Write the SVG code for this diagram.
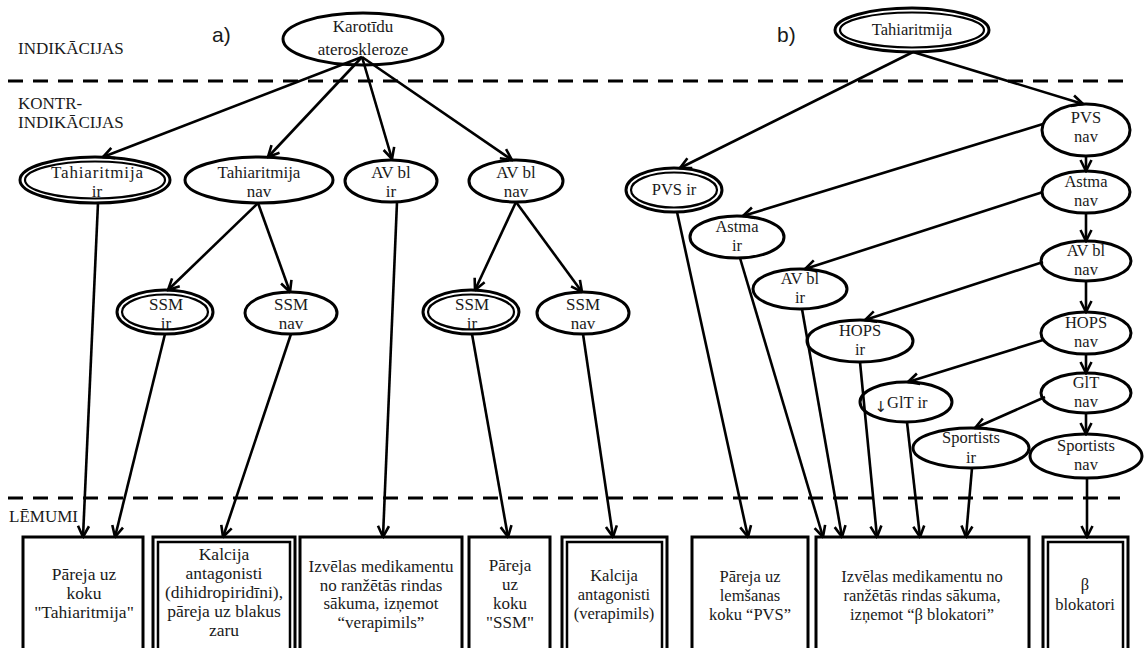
<svg xmlns="http://www.w3.org/2000/svg" width="1144" height="648" viewBox="0 0 1144 648">
<style>
.bg{fill:#fff}
.e{fill:#fff;stroke:#000;stroke-width:3}
.ei{fill:none;stroke:#000;stroke-width:2.2}
.r{fill:#fff;stroke:#000;stroke-width:3}
.ri{fill:none;stroke:#000;stroke-width:2.5}
.c{fill:none;stroke:#000;stroke-width:2.6;marker-end:url(#arr)}
.d{fill:none;stroke:#000;stroke-width:3;stroke-dasharray:15 10}
text{font-family:'Liberation Serif','DejaVu Serif',serif;font-size:16.5px;fill:#1a1a1a;text-anchor:middle}
.lab{text-anchor:start;font-size:17px}
.la{font-size:17px}
.lb{font-size:17.5px}
.ab{font-family:'Liberation Sans','DejaVu Sans',sans-serif;font-size:21px;text-anchor:start}
.dn{font-family:'DejaVu Sans',sans-serif;font-size:15px}
</style>
<defs>
<marker id="arr" viewBox="0 0 14 14" refX="12.5" refY="7" markerWidth="14" markerHeight="14" markerUnits="userSpaceOnUse" orient="auto">
<path d="M1.5,1.5 L12.5,7 L1.5,12.5" fill="none" stroke="#000" stroke-width="2.6"/>
</marker>
</defs>
<rect class="bg" x="0" y="0" width="1144" height="648"/>

<g id="sections">
<line class="d" x1="8" y1="81" x2="1132" y2="81"/>
<line class="d" x1="8" y1="498" x2="1120" y2="498"/>
<text class="lab" x="18" y="54">INDIKĀCIJAS</text>
<text class="lab" x="18" y="109">KONTR-</text>
<text class="lab" x="18" y="128">INDIKĀCIJAS</text>
<text class="lab" x="9" y="522">LĒMUMI</text>
<text class="ab" x="212" y="42">a)</text>
<text class="ab" x="777" y="42">b)</text>
</g>

<g id="a_karotidu"><ellipse class="e" cx="363" cy="39" rx="80" ry="26"/><text class="la" x="363" y="32">Karotīdu</text><text class="la" x="363" y="55">ateroskleroze</text></g>
<g id="a_tahi_ir"><ellipse class="e" cx="95" cy="180" rx="75" ry="23"/><ellipse class="ei" cx="95" cy="180" rx="70" ry="18.5"/><text class="la" x="97" y="178" textLength="92">Tahiaritmija</text><text class="la" x="97" y="197">ir</text></g>
<g id="a_tahi_nav"><ellipse class="e" cx="259" cy="180" rx="74" ry="23"/><text class="la" x="259" y="178">Tahiaritmija</text><text class="la" x="259" y="197">nav</text></g>
<g id="a_avbl_ir"><ellipse class="e" cx="391" cy="181" rx="46" ry="21"/><text class="la" x="391" y="178">AV bl</text><text class="la" x="391" y="197">ir</text></g>
<g id="a_avbl_nav"><ellipse class="e" cx="516" cy="181" rx="47" ry="21"/><text class="la" x="516" y="178">AV bl</text><text class="la" x="516" y="197">nav</text></g>
<g id="a_ssm_ir1"><ellipse class="e" cx="165" cy="312" rx="48" ry="22"/><ellipse class="ei" cx="165" cy="312" rx="43" ry="17.5"/><text class="la" x="166" y="310">SSM</text><text class="la" x="166" y="329">ir</text></g>
<g id="a_ssm_nav1"><ellipse class="e" cx="291" cy="313" rx="46" ry="21"/><text class="la" x="291" y="310">SSM</text><text class="la" x="291" y="329">nav</text></g>
<g id="a_ssm_ir2"><ellipse class="e" cx="471" cy="312" rx="48" ry="22"/><ellipse class="ei" cx="471" cy="312" rx="43" ry="17.5"/><text class="la" x="472" y="310">SSM</text><text class="la" x="472" y="329">ir</text></g>
<g id="a_ssm_nav2"><ellipse class="e" cx="583" cy="313" rx="46" ry="21"/><text class="la" x="583" y="310">SSM</text><text class="la" x="583" y="329">nav</text></g>

<g id="b_tahi"><ellipse class="e" cx="912" cy="30" rx="77" ry="22"/><ellipse class="ei" cx="912" cy="30" rx="72" ry="17.5"/><text x="912" y="35" font-size="15">Tahiaritmija</text></g>
<g id="b_pvs_ir"><ellipse class="e" cx="674" cy="190" rx="48" ry="22"/><ellipse class="ei" cx="674" cy="190" rx="43" ry="17.5"/><text x="674" y="195">PVS ir</text></g>
<g id="b_pvs_nav"><ellipse class="e" cx="1086" cy="130" rx="44" ry="26"/><text x="1086" y="123">PVS</text><text x="1086" y="142">nav</text></g>
<g id="b_astma_nav"><ellipse class="e" cx="1086" cy="192" rx="44" ry="21"/><text x="1086" y="187">Astma</text><text x="1086" y="206">nav</text></g>
<g id="b_avbl_nav"><ellipse class="e" cx="1086" cy="261" rx="45" ry="20"/><text x="1086" y="256">AV bl</text><text x="1086" y="275">nav</text></g>
<g id="b_hops_nav"><ellipse class="e" cx="1086" cy="333" rx="45" ry="21"/><text x="1086" y="328">HOPS</text><text x="1086" y="347">nav</text></g>
<g id="b_glt_nav"><ellipse class="e" cx="1086" cy="393" rx="45" ry="20"/><text x="1086" y="388">GlT</text><text x="1086" y="407">nav</text></g>
<g id="b_sport_nav"><ellipse class="e" cx="1086" cy="456" rx="56" ry="22"/><text x="1086" y="451">Sportists</text><text x="1086" y="470">nav</text></g>
<g id="b_astma_ir"><ellipse class="e" cx="737" cy="237" rx="47" ry="21"/><text x="737" y="232">Astma</text><text x="737" y="251">ir</text></g>
<g id="b_avbl_ir"><ellipse class="e" cx="800" cy="289" rx="47" ry="20"/><text x="800" y="284">AV bl</text><text x="800" y="303">ir</text></g>
<g id="b_hops_ir"><ellipse class="e" cx="860" cy="341" rx="53" ry="21"/><text x="860" y="336">HOPS</text><text x="860" y="355">ir</text></g>
<g id="b_glt_ir"><ellipse class="e" cx="906" cy="402" rx="46" ry="20"/><text x="901" y="408"><tspan class="dn" dy="4">↓</tspan><tspan dy="-4">GlT ir</tspan></text></g>
<g id="b_sport_ir"><ellipse class="e" cx="971" cy="448" rx="58" ry="20"/><text x="971" y="443">Sportists</text><text x="971" y="463">ir</text></g>

<g id="box1"><rect class="r" x="23" y="537" width="120" height="130"/><text class="lb" x="84" y="580">Pāreja uz</text><text class="lb" x="84" y="599">koku</text><text class="lb" x="84" y="618">"Tahiaritmija"</text></g>
<g id="box2"><rect class="r" x="153" y="537" width="142" height="130"/><rect class="ri" x="158" y="542" width="132" height="130"/><text class="lb" x="224" y="560">Kalcija</text><text class="lb" x="224" y="579">antagonisti</text><text class="lb" x="224" y="598">(dihidropiridīni),</text><text class="lb" x="224" y="617">pāreja uz blakus</text><text class="lb" x="224" y="636">zaru</text></g>
<g id="box3"><rect class="r" x="300" y="537" width="162" height="130"/><text class="la" x="381" y="572">Izvēlas medikamentu</text><text class="la" x="381" y="591">no ranžētās rindas</text><text class="la" x="381" y="609">sākuma, izņemot</text><text class="la" x="381" y="628">“verapimils”</text></g>
<g id="box4"><rect class="r" x="469" y="537" width="81" height="130"/><text class="la" x="510" y="571">Pāreja</text><text class="la" x="510" y="590">uz</text><text class="la" x="510" y="609">koku</text><text class="la" x="510" y="628">"SSM"</text></g>
<g id="box5"><rect class="r" x="562" y="537" width="105" height="130"/><rect class="ri" x="567" y="542" width="95" height="130"/><text x="614" y="581">Kalcija</text><text x="614" y="600">antagonisti</text><text x="614" y="619">(verapimils)</text></g>
<g id="box6"><rect class="r" x="692" y="537" width="116" height="130"/><text x="750" y="582">Pāreja uz</text><text x="750" y="601">lemšanas</text><text x="750" y="620">koku “PVS”</text></g>
<g id="box7"><rect class="r" x="816" y="537" width="213" height="130"/><text x="922" y="582">Izvēlas medikamentu no</text><text x="922" y="601">ranžētās rindas sākuma,</text><text x="922" y="620">izņemot “β blokatori”</text></g>
<g id="box8"><rect class="r" x="1043" y="537" width="85" height="130"/><rect class="ri" x="1048" y="542" width="75" height="130"/><text x="1085" y="590">β</text><text x="1085" y="610">blokatori</text></g>

<g id="connectors">
<line class="c" x1="362" y1="57" x2="103" y2="157"/>
<line class="c" x1="362" y1="57" x2="268" y2="157"/>
<line class="c" x1="362" y1="57" x2="392" y2="159"/>
<line class="c" x1="362" y1="57" x2="512" y2="160"/>
<line class="c" x1="258" y1="203" x2="168" y2="290"/>
<line class="c" x1="258" y1="203" x2="290" y2="292"/>
<line class="c" x1="516" y1="202" x2="475" y2="290"/>
<line class="c" x1="516" y1="202" x2="582" y2="292"/>
<line class="c" x1="98" y1="203" x2="83" y2="537"/>
<line class="c" x1="165" y1="334" x2="115" y2="537"/>
<line class="c" x1="291" y1="334" x2="223" y2="537"/>
<line class="c" x1="397" y1="202" x2="383" y2="537"/>
<line class="c" x1="472" y1="334" x2="508" y2="537"/>
<line class="c" x1="583" y1="334" x2="613" y2="537"/>

<line class="c" x1="913" y1="52" x2="680" y2="168"/>
<line class="c" x1="913" y1="52" x2="1083" y2="104"/>
<line class="c" x1="1043" y1="124" x2="743" y2="216"/>
<line class="c" x1="1086" y1="156" x2="1086" y2="171"/>
<line class="c" x1="1043" y1="192" x2="805" y2="269"/>
<line class="c" x1="1086" y1="213" x2="1086" y2="241"/>
<line class="c" x1="1043" y1="262" x2="865" y2="320"/>
<line class="c" x1="1086" y1="281" x2="1086" y2="312"/>
<line class="c" x1="1043" y1="340" x2="908" y2="382"/>
<line class="c" x1="1086" y1="354" x2="1086" y2="373"/>
<line class="c" x1="1045" y1="397" x2="975" y2="428"/>
<line class="c" x1="1086" y1="413" x2="1086" y2="434"/>

<line class="c" x1="677" y1="212" x2="748" y2="537"/>
<line class="c" x1="740" y1="258" x2="823" y2="537"/>
<line class="c" x1="802" y1="309" x2="842" y2="537"/>
<line class="c" x1="860" y1="362" x2="877" y2="537"/>
<line class="c" x1="907" y1="422" x2="920" y2="537"/>
<line class="c" x1="972" y1="468" x2="966" y2="537"/>
<line class="c" x1="1087" y1="478" x2="1087" y2="537"/>
</g>
</svg>
